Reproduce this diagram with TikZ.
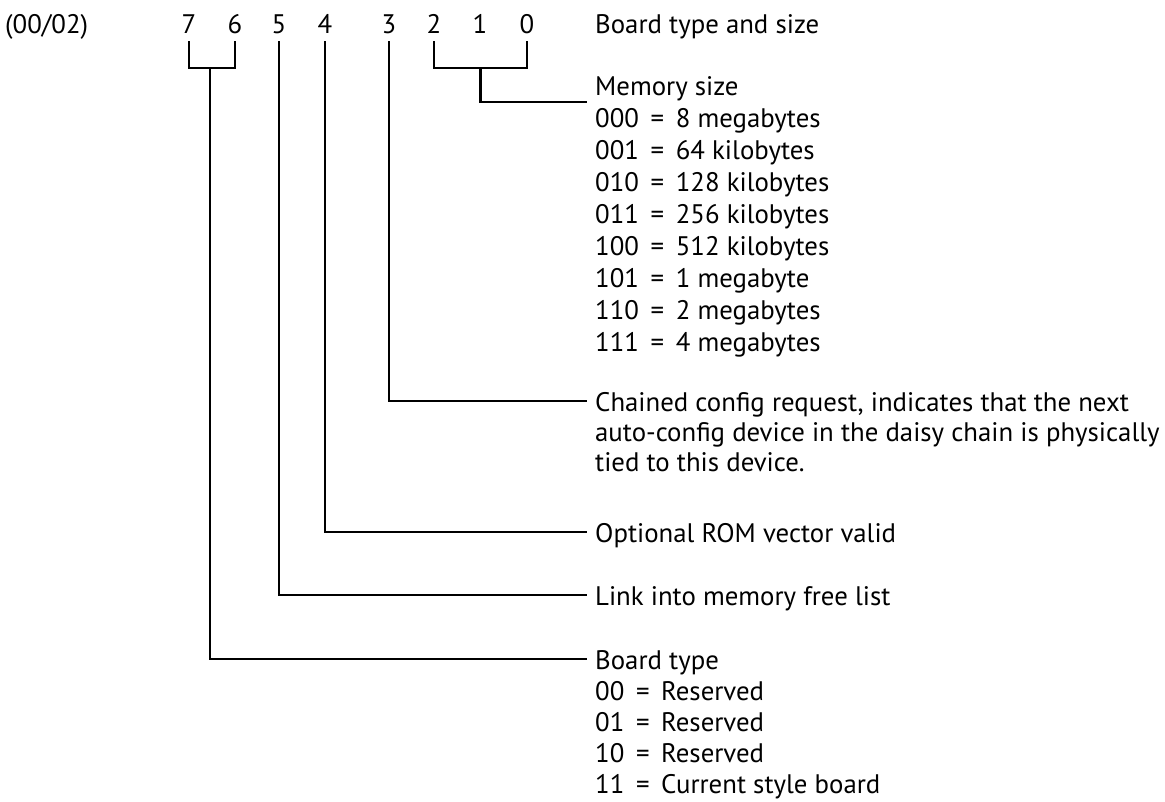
\documentclass[tikz,border=0pt]{standalone}
\usepackage{fontspec}
\setmainfont{PT Sans}
\usetikzlibrary{calc}
\begin{document}
\begin{tikzpicture}[x=1pt,y=-1pt,
  every node/.style={inner sep=0pt, font=\fontsize{26.8}{32}\selectfont},
  bit/.style={anchor=base},
  lbl/.style={anchor=base west},
  wire/.style={line width=2.2pt}]
\useasboundingbox (0,0) rectangle (1165,801);
\fill[white] (0,0) rectangle (1165,801);
% header row
\node[lbl] (reg) at (5,33) {(00/02)};
\node[bit] (d7) at (189,33) {7};
\node[bit] (d6) at (235,33) {6};
\node[bit] (d5) at (279,33) {5};
\node[bit] (d4) at (325,33) {4};
\node[bit] (d3) at (389,33) {3};
\node[bit] (d2) at (434,33) {2};
\node[bit] (d1) at (480,33) {1};
\node[bit] (d0) at (527,33) {0};
\node[lbl] (title) at (595,33) {Board type and size};
% memory size
\node[lbl] (mem) at (595,95) {Memory size};
\node[lbl] (m0) at (595,127) {000 \,=\, 8 megabytes};
\node[lbl] (m1) at (595,159) {001 \,=\, 64 kilobytes};
\node[lbl] (m2) at (595,191) {010 \,=\, 128 kilobytes};
\node[lbl] (m3) at (595,223) {011 \,=\, 256 kilobytes};
\node[lbl] (m4) at (595,255) {100 \,=\, 512 kilobytes};
\node[lbl] (m5) at (595,287) {101 \,=\, 1 megabyte};
\node[lbl] (m6) at (595,319) {110 \,=\, 2 megabytes};
\node[lbl] (m7) at (595,351) {111 \,=\, 4 megabytes};
% chained
\node[lbl] (ch) at (595,411) {Chained config request, indicates that the next};
\node[lbl] (ch2) at (595,441) {auto-config device in the daisy chain is physically};
\node[lbl] (ch3) at (595,471) {tied to this device.};
% others
\node[lbl] (rom) at (595,542) {Optional ROM vector valid};
\node[lbl] (link) at (595,605) {Link into memory free list};
\node[lbl] (bt) at (595,669) {Board type};
\node[lbl] (b0) at (595,700) {00 \,=\, Reserved};
\node[lbl] (b1) at (595,731) {01 \,=\, Reserved};
\node[lbl] (b2) at (595,762) {10 \,=\, Reserved};
\node[lbl] (b3) at (595,793) {11 \,=\, Current style board};
% brackets
\coordinate (k76) at ($(d7.base)!0.45!(d6.base)+(0,35)$);
\coordinate (k20) at ($(d2.base)!0.5!(d0.base)+(0,35)$);
\draw[wire] ([yshift=-8pt]d7.base) -- ++(0,27) -| ([yshift=-8pt]d6.base);
\draw[wire] ([yshift=-8pt]d2.base) -- ++(0,27) -| ([yshift=-8pt]d0.base);
% connectors
\draw[wire] (k20) |- ([xshift=-8pt,yshift=-7pt]mem.base west);
\draw[wire] ([yshift=-8pt]d3.base) |- ([xshift=-8pt,yshift=10pt]ch.base west);
\draw[wire] ([yshift=-8pt]d4.base) |- ([xshift=-8pt,yshift=10pt]rom.base west);
\draw[wire] ([yshift=-8pt]d5.base) |- ([xshift=-8pt,yshift=10pt]link.base west);
\draw[wire] (k76) |- ([xshift=-8pt,yshift=10pt]bt.base west);
\end{tikzpicture}
\end{document}
